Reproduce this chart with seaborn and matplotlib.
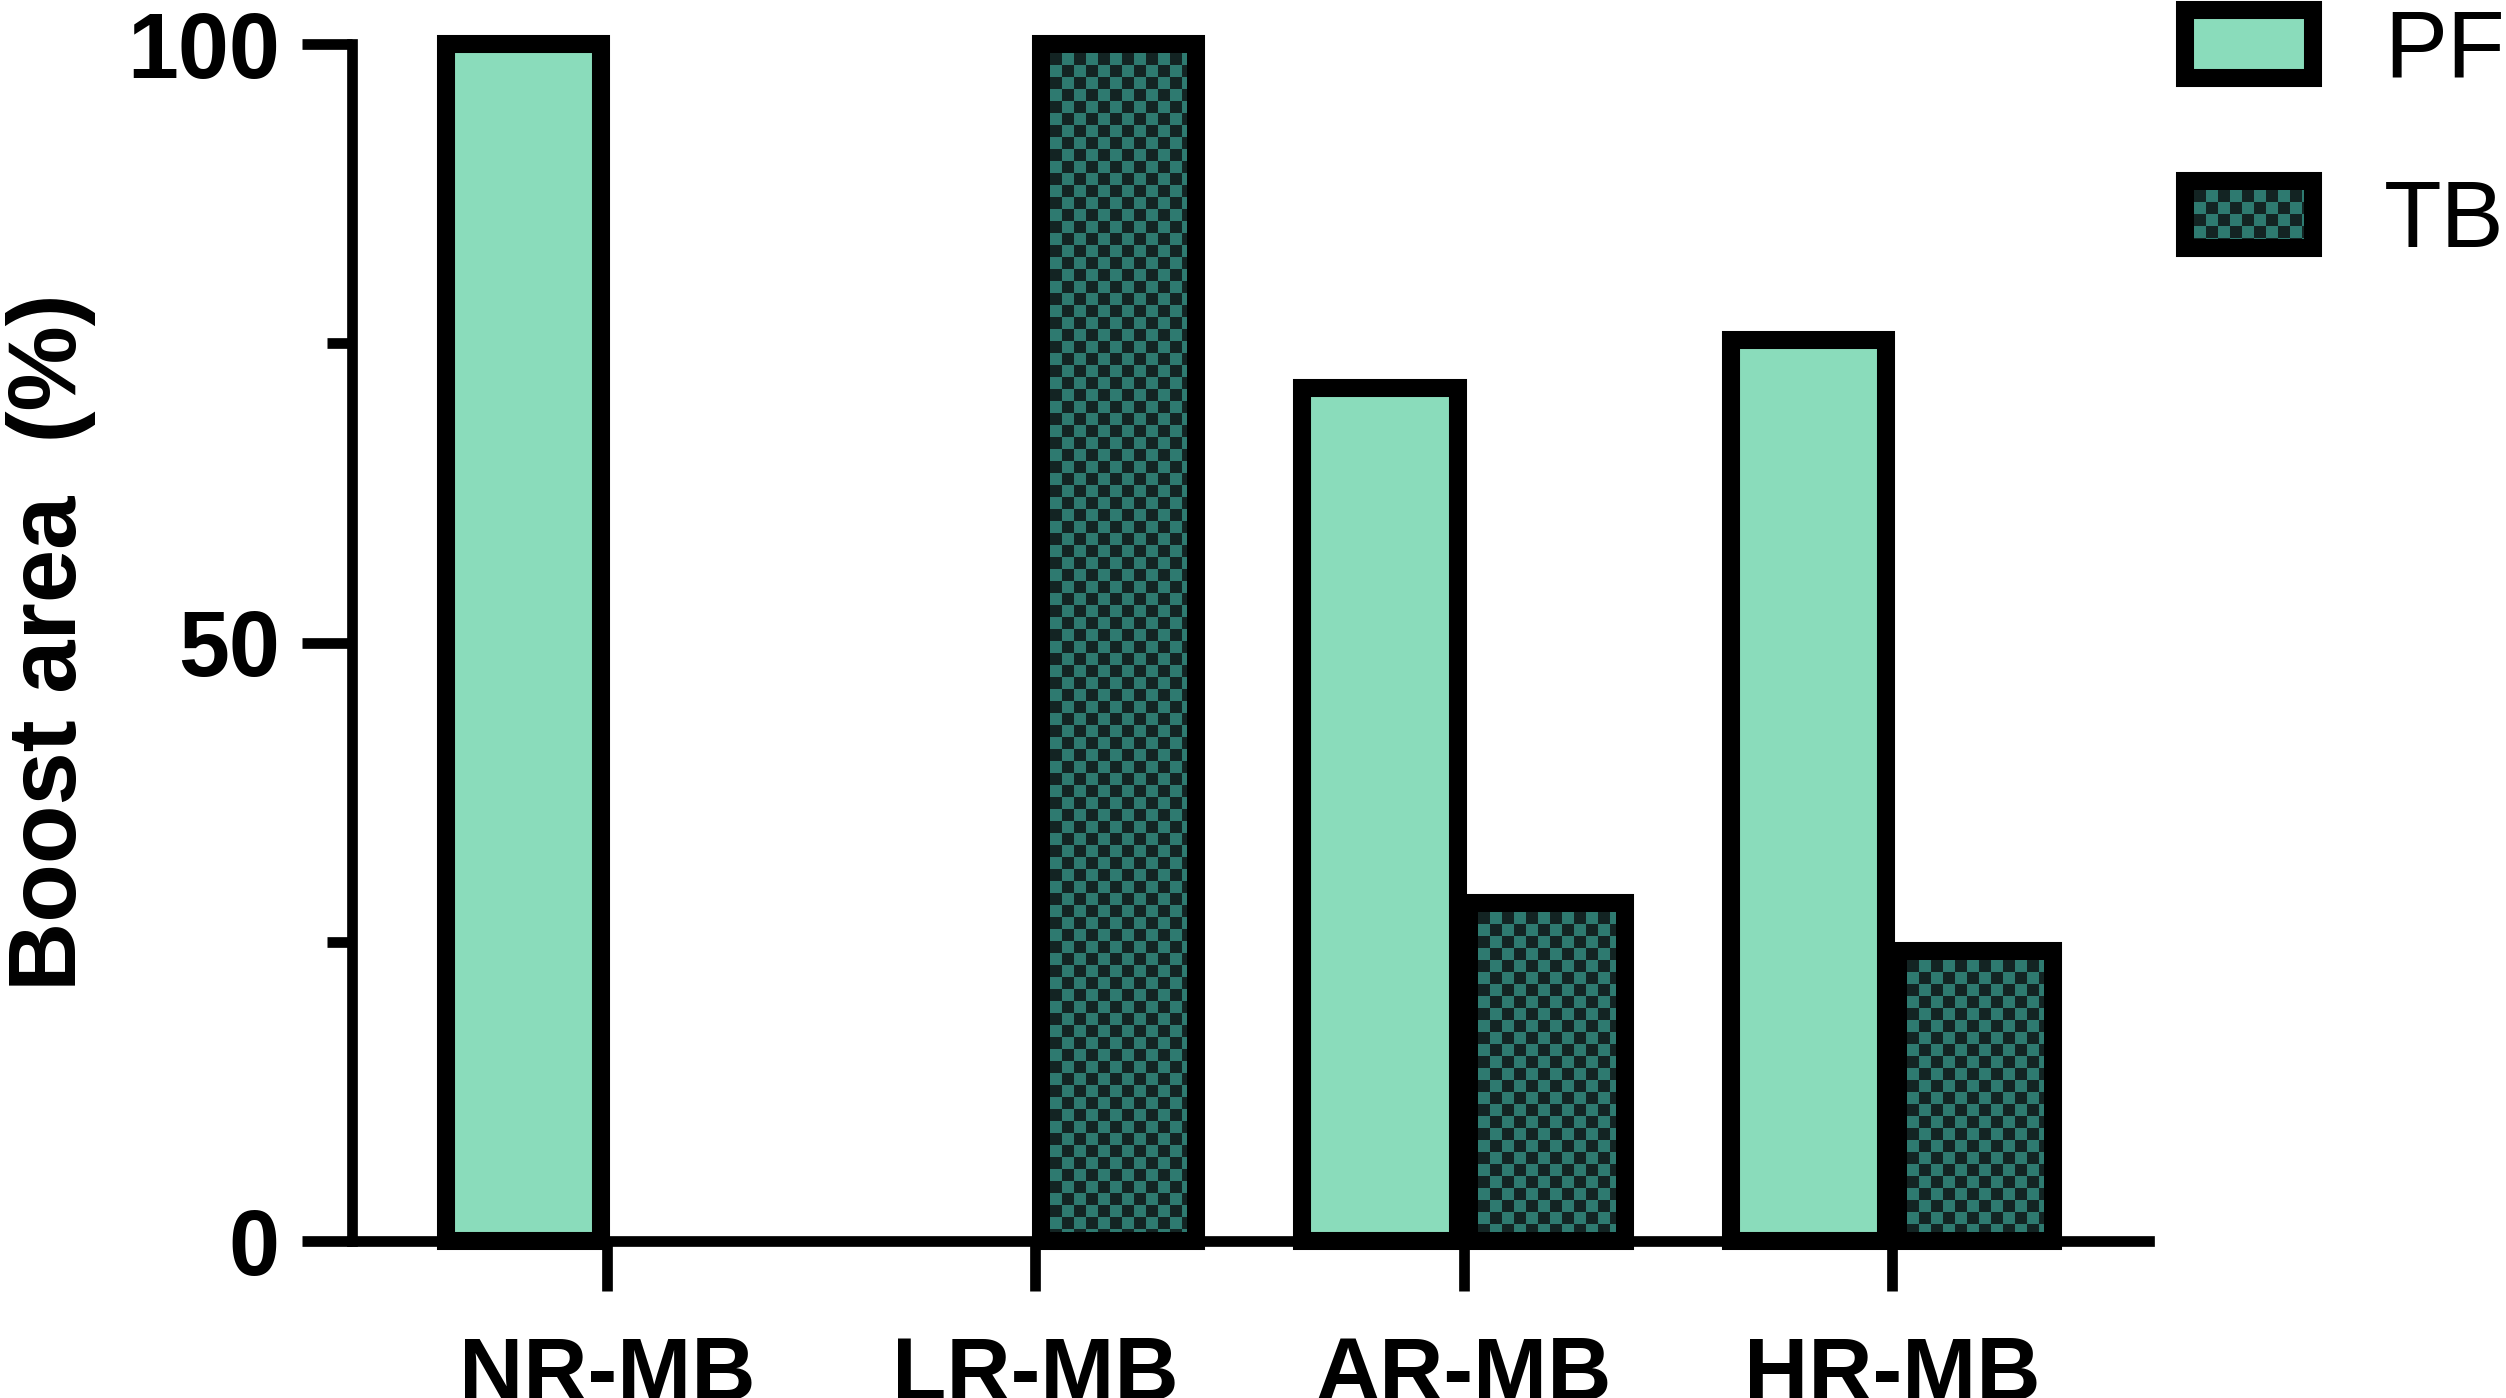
import numpy as np
import pandas as pd
import matplotlib
matplotlib.use("Agg")
import matplotlib.pyplot as plt
from matplotlib.patches import Patch
from matplotlib.colors import to_rgb
import seaborn as sns

# values
categories = ["NR-MB", "LR-MB", "AR-MB", "HR-MB"]
groups = ["PF", "TB"]
pf_values = [100, 0, 71.3, 75.3]
tb_values = [0, 100, 28.2, 24.2]
y_major = [0, 50, 100]
y_minor = [25, 75]

pf_color = "#8adcbb"
tb_light = "#2e7a70"
tb_dark = "#132423"
edge_lw = 13
axis_lw = 7.7

df = pd.DataFrame({
    "category": categories * 2,
    "group": ["PF"] * len(categories) + ["TB"] * len(categories),
    "value": pf_values + tb_values,
})

sns.set_style("ticks")
plt.rcParams["font.family"] = ["Liberation Sans", "DejaVu Sans"]
plt.rcParams.update({"axes.edgecolor": "black", "text.color": "black",
                     "axes.labelcolor": "black", "xtick.color": "black",
                     "ytick.color": "black"})

fig = plt.figure(figsize=(25.06, 13.98), dpi=100)
ax = fig.add_axes([0.1405, 0.1123, 0.7170, 0.8562])

sns.barplot(data=df, x="category", y="value", hue="group",
            order=categories, hue_order=groups,
            palette={"PF": pf_color, "TB": tb_light}, saturation=1,
            width=0.78, gap=0.07, edgecolor="black", linewidth=edge_lw,
            errorbar=None, legend=False, ax=ax)

for bar in ax.patches:
    bar.set_clip_on(False)
    if bar.get_height() == 0:
        bar.set_linewidth(0)

ax.set_xlim(-0.595, 3.60)
ax.set_ylim(0, 100)
sns.despine(ax=ax)
for side in ["left", "bottom"]:
    ax.spines[side].set_linewidth(axis_lw)
    ax.spines[side].set_color("black")

ax.set_yticks(y_major)
ax.set_yticks(y_minor, minor=True)
ax.tick_params(axis="y", which="major", length=36, width=axis_lw, pad=16,
               labelsize=66, color="black", labelcolor="black")
ax.tick_params(axis="y", which="minor", length=18, width=axis_lw, color="black")
ax.tick_params(axis="x", length=36, width=axis_lw, pad=31, labelsize=64,
               color="black", labelcolor="black")
for lab in ax.get_xticklabels() + ax.get_yticklabels():
    lab.set_fontweight("bold")

ax.set_xlabel("")
ax.set_ylabel("Boost area  (%)", fontsize=69, fontweight="bold", color="black")
ax.yaxis.set_label_coords(-0.1425, 0.5)

handles = [Patch(facecolor=pf_color, edgecolor="black", linewidth=edge_lw),
           Patch(facecolor=tb_light, edgecolor="black", linewidth=edge_lw)]
leg = fig.legend(handles, groups, loc="upper left", bbox_to_anchor=(0.8719, 0.9943),
                 frameon=False, fontsize=68, borderpad=0, borderaxespad=0,
                 handlelength=1.36, handleheight=0.72, handletextpad=0.75,
                 labelspacing=0.86, labelcolor="black")


# checkerboard texture for the TB fills
def checker(w, h, sq=12):
    ny, nx = h // sq + 2, w // sq + 2
    board = np.add.outer(np.arange(ny), np.arange(nx)) % 2
    board = np.kron(board, np.ones((sq, sq)))[:h, :w]
    return np.where(board[..., None] == 1, to_rgb(tb_light), to_rgb(tb_dark))


fig.canvas.draw()
renderer = fig.canvas.get_renderer()
half = int(round(edge_lw * fig.dpi / 72 / 2))
tb_patches = [p for p in ax.containers[1] if p.get_height() > 0]
tb_patches.append(leg.legend_handles[1])
for p in tb_patches:
    bb = p.get_window_extent(renderer)
    x0, y0 = int(round(bb.x0)) + half, int(round(bb.y0)) + half
    x1, y1 = int(round(bb.x1)) - half, int(round(bb.y1)) - half
    if x1 > x0 and y1 > y0:
        fig.figimage(checker(x1 - x0, y1 - y0), xo=x0, yo=y0, origin="upper", zorder=6)

fig.savefig("out.png", dpi=100)
